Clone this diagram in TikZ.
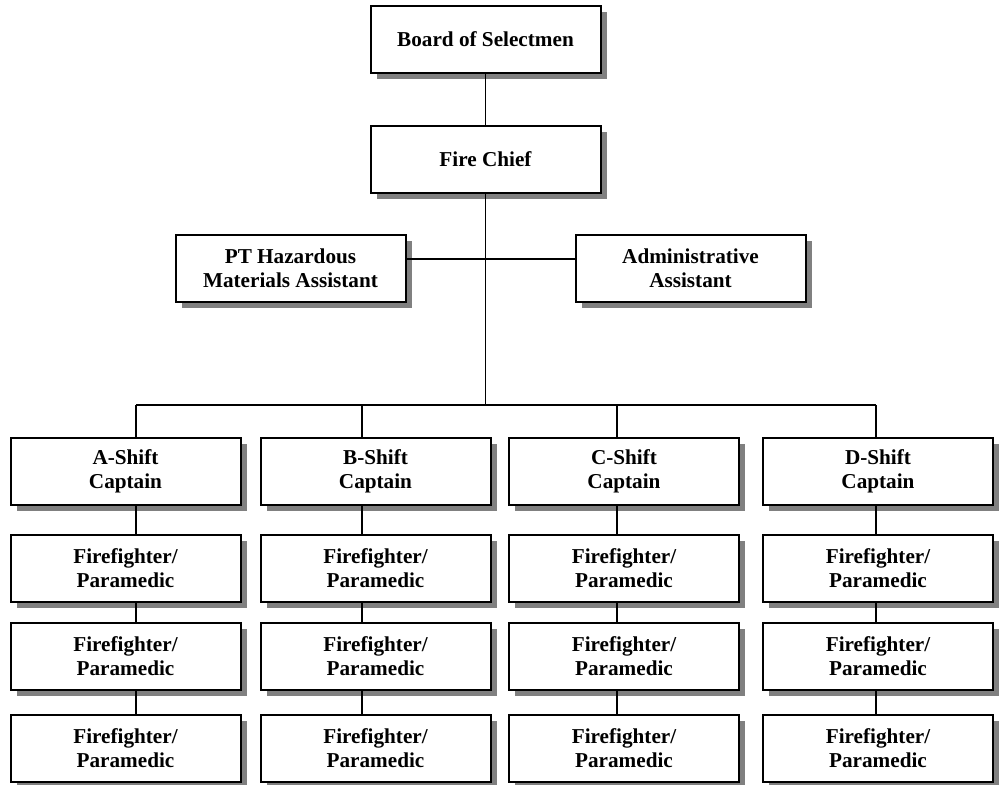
\documentclass[tikz,border=0pt]{standalone}
\usepackage{fontspec}
\setmainfont{Liberation Serif}
\usepackage{tikz}
\usetikzlibrary{shadows}

\tikzset{
  unit/.style={draw, line width=1pt, fill=white, align=center,
    minimum width=115pt, minimum height=33.5pt, inner sep=2pt,
    font=\fontsize{10.6}{12}\selectfont\bfseries,
    drop shadow={shadow xshift=3pt, shadow yshift=-3pt, fill=black!50, opacity=1}},
  link/.style={line width=0.8pt}
}

\begin{document}
\begin{tikzpicture}[x=0.5pt, y=-0.5pt]
      \useasboundingbox (0,0) rectangle (1000,785);
      % top of the chart
      \node[unit] (board) at (485.5,39.5) {Board of Selectmen};
      \node[unit] (chief) at (485.5,159.5) {Fire Chief};
      \node[unit] (pt) at (290.5,268.5) {PT Hazardous\\Materials Assistant};
      \node[unit] (admin) at (690.5,268.5) {Administrative\\Assistant};
      \coordinate (side) at (485.5,259);
      \coordinate (hub) at (485.5,405);
      \draw[link] (board) -- (chief);
      \draw[link] (chief.south) -- (hub);
      \draw[link] (pt.east |- side) -- (admin.west |- side);
      % shift columns
      \foreach \c/\x/\lx in {A/125.5/136, B/375.5/362, C/624/617, D/878/876} {
        \node[unit] (cap\c) at (\x,471.5) {\c-Shift\\Captain};
        \foreach \r/\y in {1/568, 2/656, 3/748}
          \node[unit] (ff\c\r) at (\x,\y) {Firefighter/\\Paramedic};
        \coordinate (bus\c) at (\lx,405);
        \draw[link] (bus\c) -- (bus\c |- cap\c.north);
        \draw[link] (bus\c |- cap\c.south) -- (bus\c |- ff\c1.north);
        \draw[link] (bus\c |- ff\c1.south) -- (bus\c |- ff\c2.north);
        \draw[link] (bus\c |- ff\c2.south) -- (bus\c |- ff\c3.north);
      }
      \draw[link] (busA) -- (busD);
    \end{tikzpicture}
\end{document}
